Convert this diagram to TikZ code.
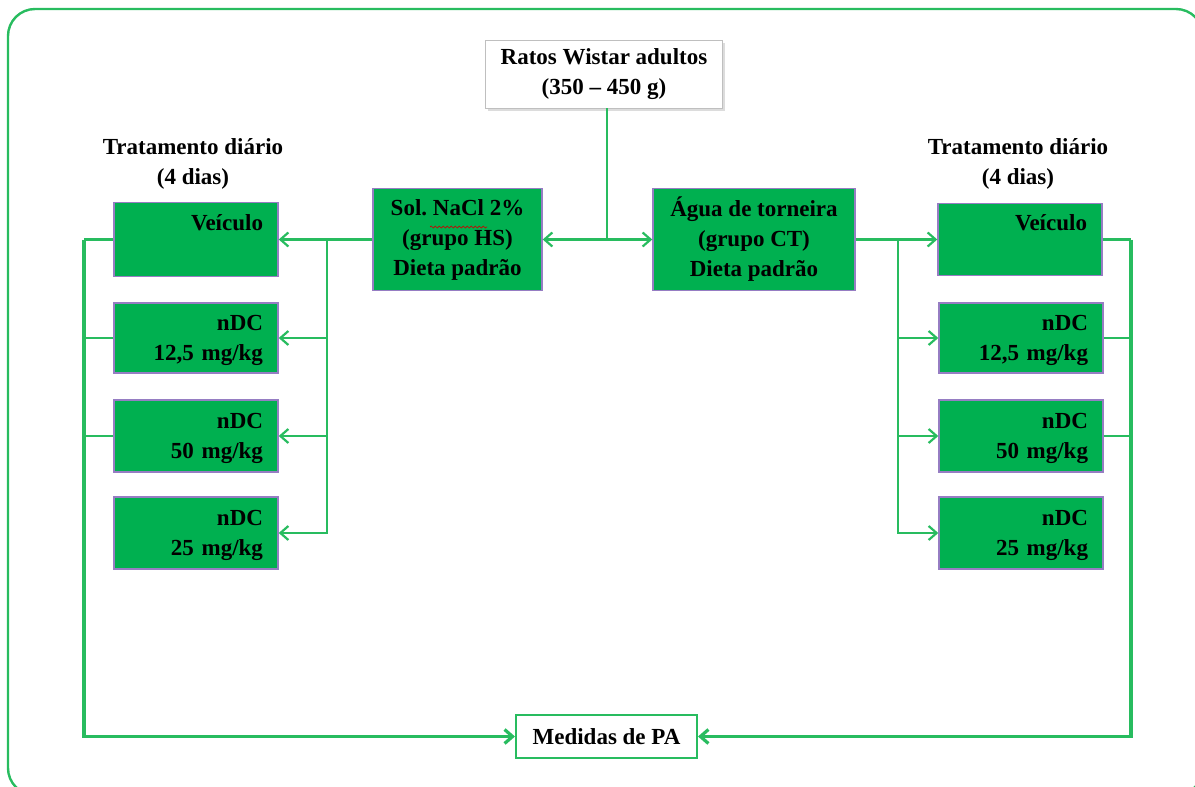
\documentclass[tikz,border=0pt]{standalone}
\usepackage{fontspec}
\setmainfont{Liberation Serif}
\usetikzlibrary{arrows.meta,shadows,decorations.pathmorphing}
\definecolor{lg}{RGB}{40,188,95}
\definecolor{bfill}{RGB}{0,176,80}
\definecolor{bedge}{RGB}{150,125,195}
\begin{document}
\frenchspacing
\begin{tikzpicture}[x=1pt,y=-1pt,
  font=\fontsize{23}{30}\selectfont\bfseries,
  gbox/.style={draw=bedge,line width=1.4pt,fill=bfill,minimum width=164pt,
    minimum height=72pt,inner xsep=15pt,inner ysep=0pt,text width=134pt,align=right},
  cbox/.style={draw=bedge,line width=1.4pt,fill=bfill,minimum height=102pt,
    inner sep=0pt,align=center},
  ln/.style={draw=lg,line width=2.2pt},
  lnb/.style={draw=lg,line width=3.2pt},
  tip/.style={-{Straight Barb[length=8pt,width=14pt]}},
  lbl/.style={align=center}]
\useasboundingbox (0,0) rectangle (1195,787);
\clip (0,0) rectangle (1195,787);
\draw[lg,line width=2.4pt,rounded corners=27pt] (8,9) rectangle (1203,795);

% top box
\node[draw=gray!50,line width=0.8pt,fill=white,minimum width=237pt,minimum height=68pt,
  align=center,inner sep=0pt,
  drop shadow={shadow xshift=2pt,shadow yshift=-3pt,fill=gray!55}] (top) at (604,74)
  {Ratos Wistar adultos\\(350 -- 450 g)};

% group boxes
\node[cbox,minimum width=169pt] (nacl) at (457.5,239.5) {Sol. NaCl 2\%\\(grupo HS)\\Dieta padrão};
\node[cbox,minimum width=202pt] (agua) at (754,239.5) {Água de torneira\\(grupo CT)\\Dieta padrão};
\draw[red!80!black,line width=0.7pt,decorate,
  decoration={snake,amplitude=1pt,segment length=4pt}] (430,227) -- (487,227);

% labels
\node[lbl] (tl) at (193,164) {Tratamento diário\\(4 dias)};
\node[lbl] (tr) at (1018,164) {Tratamento diário\\(4 dias)};

% left boxes
\node[gbox,minimum height=74pt] (lv) at (196,239.5) {\strut Veículo\\\strut};
\node[gbox,minimum height=70pt] (l2) at (196,338) {\strut nDC\\12,5 mg/kg};
\node[gbox] (l3) at (196,436) {\strut nDC\\50 mg/kg};
\node[gbox] (l4) at (196,533) {\strut nDC\\25 mg/kg};
% right boxes
\node[gbox,minimum height=72pt] (rv) at (1020,239.5) {\strut Veículo\\\strut};
\node[gbox,minimum height=70pt] (r2) at (1021,338) {\strut nDC\\12,5 mg/kg};
\node[gbox] (r3) at (1021,436) {\strut nDC\\50 mg/kg};
\node[gbox] (r4) at (1021,533) {\strut nDC\\25 mg/kg};

% bottom box
\node[draw=lg,line width=2pt,fill=white,minimum width=181pt,minimum height=43pt,inner sep=0pt] (pa) at (606.5,736.5) {Medidas de PA};

% coordinates
\coordinate (hub) at (607,239.5);
\coordinate (lbus) at (327,239.5);
\coordinate (rbus) at (898,239.5);
\coordinate (lout) at (84,239.5);
\coordinate (rout) at (1131,239.5);

% top connections
\draw[ln] (top.south -| hub) -- (hub);
\draw[ln,tip] (hub) -- (nacl.east);
\draw[ln,tip] (hub) -- (agua.west);

% left branch
\draw[ln,tip] (nacl.west) -- (lv.east);
\draw[ln,tip] (lbus) |- (l4.east);
\draw[ln,tip] (lbus |- l2.east) -- (l2.east);
\draw[ln,tip] (lbus |- l3.east) -- (l3.east);
% right branch
\draw[ln,tip] (agua.east) -- (rv.west);
\draw[ln,tip] (rbus) |- (r4.west);
\draw[ln,tip] (rbus |- r2.west) -- (r2.west);
\draw[ln,tip] (rbus |- r3.west) -- (r3.west);

% outputs
\draw[ln] (lv.west) -- (lout);
\draw[ln] (l2.west) -- (lout |- l2.west);
\draw[ln] (l3.west) -- (lout |- l3.west);
\draw[lnb,tip] (lout) |- (pa.west);
\draw[ln] (rv.east) -- (rout);
\draw[ln] (r2.east) -- (rout |- r2.east);
\draw[ln] (r3.east) -- (rout |- r3.east);
\draw[lnb,tip] (rout) |- (pa.east);
\end{tikzpicture}
\end{document}
